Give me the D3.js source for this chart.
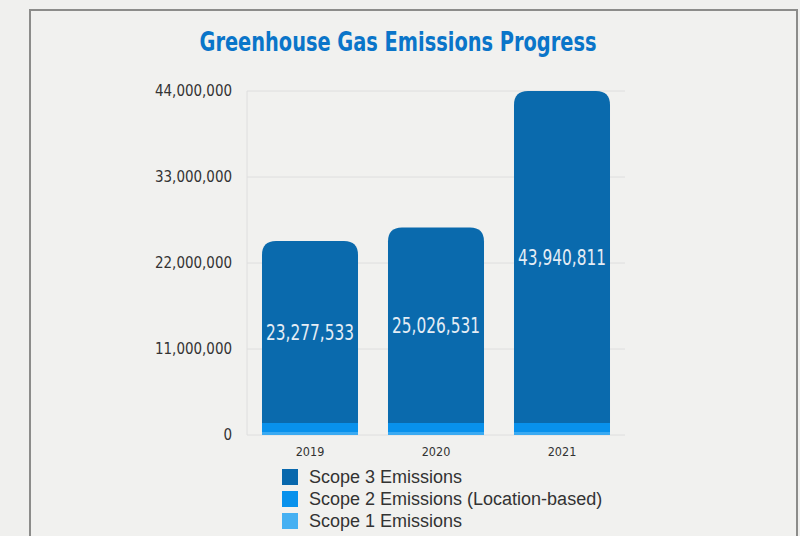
<!DOCTYPE html>
<html>
<head>
<meta charset="utf-8">
<script src="https://cdn.jsdelivr.net/npm/d3@7"></script>
<style>
  body { margin: 0; background: #f0f0ee; }
  svg { display: block; }
</style>
</head>
<body>
<script>
const years = ["2019", "2020", "2021"];
const scope3 = [23277533, 25026531, 43940811];
const scope2 = [1150000, 1150000, 1150000];
const scope1 = [380000, 380000, 380000];
const yTicks = [0, 11000000, 22000000, 33000000, 44000000];
const legendLabels = ["Scope 3 Emissions", "Scope 2 Emissions (Location-based)", "Scope 1 Emissions"];
const legendColors = ["#0868ad", "#0891ec", "#45b0f2"];

const w = 800;
const h = 536;
const keys = ["s1", "s2", "s3"];
const colors = { s1: "#3aaaf2", s2: "#0891ec", s3: "#0a6aad" };
const cond = "'DejaVu Sans Condensed', 'DejaVu Sans', sans-serif";

const table = years.map((y, i) => ({ year: y, s1: scope1[i], s2: scope2[i], s3: scope3[i] }));
const series = d3.stack().keys(keys)(table);

const svg = d3.select("body")
  .append("svg")
  .attr("width", w)
  .attr("height", h);

// panel
svg.append("rect")
  .attr("x", 30).attr("y", 10)
  .attr("width", 767).attr("height", 540)
  .attr("fill", "#f1f1ef")
  .attr("stroke", "#8c8c8a")
  .attr("stroke-width", 2);

svg.append("text")
  .attr("x", 398).attr("y", 51)
  .attr("text-anchor", "middle")
  .attr("font-family", cond)
  .attr("font-weight", "bold")
  .attr("font-size", 26)
  .attr("textLength", 397)
  .attr("lengthAdjust", "spacingAndGlyphs")
  .attr("fill", "#0a75c9")
  .text("Greenhouse Gas Emissions Progress");

const x = d3.scaleBand()
  .domain(years)
  .range([247, 625])
  .paddingInner(0.238)
  .paddingOuter(0.119);

const y = d3.scaleLinear()
  .domain([0, 44000000])
  .range([435, 91])
  .clamp(true);

// grid
const grid = svg.append("g");
grid.selectAll("line")
  .data(yTicks)
  .enter()
  .append("line")
  .attr("x1", 247).attr("x2", 625)
  .attr("y1", d => y(d)).attr("y2", d => y(d))
  .attr("stroke", "#dedede")
  .attr("stroke-width", 1);
grid.append("line")
  .attr("x1", 247).attr("x2", 247)
  .attr("y1", y(44000000)).attr("y2", y(0))
  .attr("stroke", "#dedede");

const yAxis = d3.axisLeft(y)
  .tickValues(yTicks)
  .tickSize(0)
  .tickPadding(15)
  .tickFormat(d3.format(","));

svg.append("g")
  .attr("transform", "translate(247,0)")
  .call(yAxis)
  .call(g => g.select(".domain").remove())
  .selectAll("text")
  .attr("font-family", cond)
  .attr("font-size", 15)
  .attr("fill", "#333")
  .each(function (d) {
    if (d > 0) d3.select(this).attr("textLength", 77).attr("lengthAdjust", "spacingAndGlyphs");
  });

const xAxis = d3.axisBottom(x).tickSize(0).tickPadding(12);

svg.append("g")
  .attr("transform", "translate(0,435)")
  .call(xAxis)
  .call(g => g.select(".domain").remove())
  .selectAll("text")
  .attr("font-family", cond)
  .attr("font-size", 12.5)
  .attr("fill", "#333");

// bars
const r = 14;
const topPath = (x0, y0, bw, y1) => {
  const rr = Math.min(r, (y1 - y0) / 2);
  return `M${x0},${y1}V${y0 + rr}Q${x0},${y0} ${x0 + rr},${y0}H${x0 + bw - rr}Q${x0 + bw},${y0} ${x0 + bw},${y0 + rr}V${y1}Z`;
};

series.forEach((s, si) => {
  const isTop = si === series.length - 1;
  svg.append("g")
    .selectAll("path")
    .data(s)
    .enter()
    .append("path")
    .attr("fill", colors[s.key])
    .attr("d", d => {
      const x0 = x(d.data.year);
      const bw = x.bandwidth();
      const y0 = y(d[1]);
      const y1 = y(d[0]);
      if (isTop) return topPath(x0, y0, bw, y1);
      return `M${x0},${y1}V${y0}H${x0 + bw}V${y1}Z`;
    });
});

// value labels
svg.append("g")
  .selectAll("text")
  .data(series[2])
  .enter()
  .append("text")
  .attr("x", d => x(d.data.year) + x.bandwidth() / 2)
  .attr("y", d => (y(d[0]) + y(d[1])) / 2)
  .attr("dy", "0.36em")
  .attr("text-anchor", "middle")
  .attr("font-family", cond)
  .attr("font-size", 21)
  .attr("textLength", 88)
  .attr("lengthAdjust", "spacingAndGlyphs")
  .attr("fill", "#e4edf5")
  .text(d => d3.format(",")(d.data.s3));

// legend
const legend = svg.append("g").attr("transform", "translate(282,469)");
legendLabels.forEach((lab, i) => {
  const row = legend.append("g").attr("transform", `translate(0,${i * 22})`);
  row.append("rect")
    .attr("width", 16).attr("height", 16)
    .attr("fill", legendColors[i]);
  row.append("text")
    .attr("x", 27).attr("y", 8)
    .attr("dy", "0.36em")
    .attr("font-family", "'Liberation Sans', Arial, sans-serif")
    .attr("font-size", 18)
    .attr("fill", "#333")
    .text(lab);
});
</script>
</body>
</html>
